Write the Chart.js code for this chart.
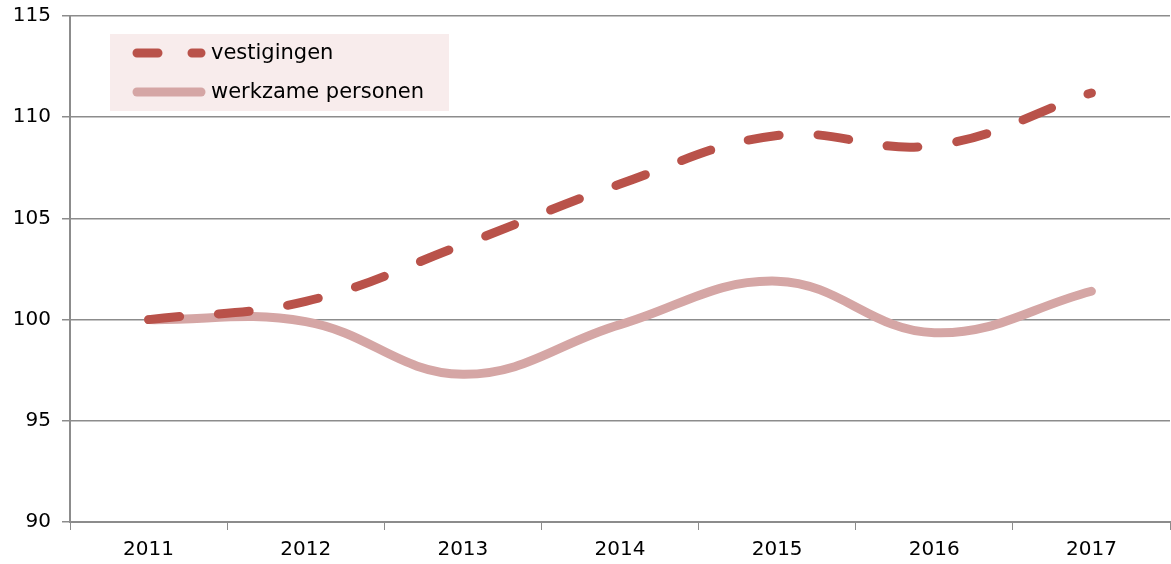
<!DOCTYPE html>
<html>
<head>
<meta charset="utf-8">
<script src="https://cdn.jsdelivr.net/npm/chart.js@4"></script>
<style>
  html, body { margin: 0; padding: 0; background: #fff; }
  #wrap { width: 1171px; height: 564px; position: relative; }
</style>
</head>
<body>
<div id="wrap"><canvas id="grafiek"></canvas></div>
<script>
// data (index 2011 = 100)
const jaren = ["2011", "2012", "2013", "2014", "2015", "2016", "2017"];
const vestigingen = [100, 100.9, 103.7, 106.7, 109.1, 108.6, 111.2];
const werkzamePersonen = [100, 99.9, 97.3, 99.75, 101.9, 99.35, 101.4];
const yTicks = [90, 95, 100, 105, 110, 115];

const donkerRood = "#b9524a";
const lichtRood = "#d5a6a5";
const grijs = "#8c8c8c";
const lettertype = "'DejaVu Sans', Verdana, sans-serif";

// legenda in de grafiek, met lichte achtergrond
const legendaPlugin = {
  id: "legenda",
  afterDraw(chart) {
    const ctx = chart.ctx;
    ctx.save();
    ctx.fillStyle = "#f8ecec";
    ctx.fillRect(110, 34, 339, 77);
    chart.data.datasets.forEach((ds, i) => {
      const y = 53 + i * 39;
      ctx.strokeStyle = ds.borderColor;
      ctx.lineWidth = 9;
      ctx.lineCap = "round";
      ctx.setLineDash(ds.borderDash ? [21, 34] : []);
      ctx.beginPath();
      ctx.moveTo(137, y);
      ctx.lineTo(201, y);
      ctx.stroke();
      ctx.setLineDash([]);
      ctx.fillStyle = "#000";
      ctx.font = "21px " + lettertype;
      ctx.textBaseline = "middle";
      ctx.fillText(ds.label, 211, y + 1);
    });
    ctx.restore();
  }
};

new Chart(document.getElementById("grafiek"), {
  type: "line",
  data: {
    labels: jaren,
    datasets: [
      {
        label: "vestigingen",
        data: vestigingen,
        borderColor: donkerRood,
        borderWidth: 9,
        borderDash: [31, 39],
        borderCapStyle: "round",
        pointRadius: 0,
        tension: 0.4,
        fill: false
      },
      {
        label: "werkzame personen",
        data: werkzamePersonen,
        borderColor: lichtRood,
        borderWidth: 9,
        borderCapStyle: "round",
        pointRadius: 0,
        tension: 0.4,
        fill: false
      }
    ]
  },
  options: {
    responsive: true,
    maintainAspectRatio: false,
    animation: false,
    layout: { padding: { top: 16, right: 1, left: 0, bottom: 0 } },
    plugins: {
      legend: { display: false },
      tooltip: { enabled: false }
    },
    scales: {
      x: {
        offset: true,
        grid: { display: true, drawOnChartArea: false, drawTicks: true, tickLength: 8, color: grijs, offset: true },
        border: { color: grijs, width: 2 },
        ticks: { color: "#000", font: { family: lettertype, size: 20 }, padding: 8, maxRotation: 0 },
        afterFit(scale) { scale.height = 42; scale.paddingLeft = 0; scale.paddingRight = 0; }
      },
      y: {
        min: 90,
        max: 115,
        afterBuildTicks(scale) { scale.ticks = yTicks.map(v => ({ value: v })); },
        grid: { color: grijs, lineWidth: 1.5, tickLength: 8 },
        border: { color: grijs, width: 2 },
        ticks: { color: "#000", font: { family: lettertype, size: 20 }, padding: 11 },
        afterFit(scale) { scale.width = 70; scale.paddingTop = 0; scale.paddingBottom = 0; }
      }
    }
  },
  plugins: [legendaPlugin]
});
</script>
</body>
</html>
